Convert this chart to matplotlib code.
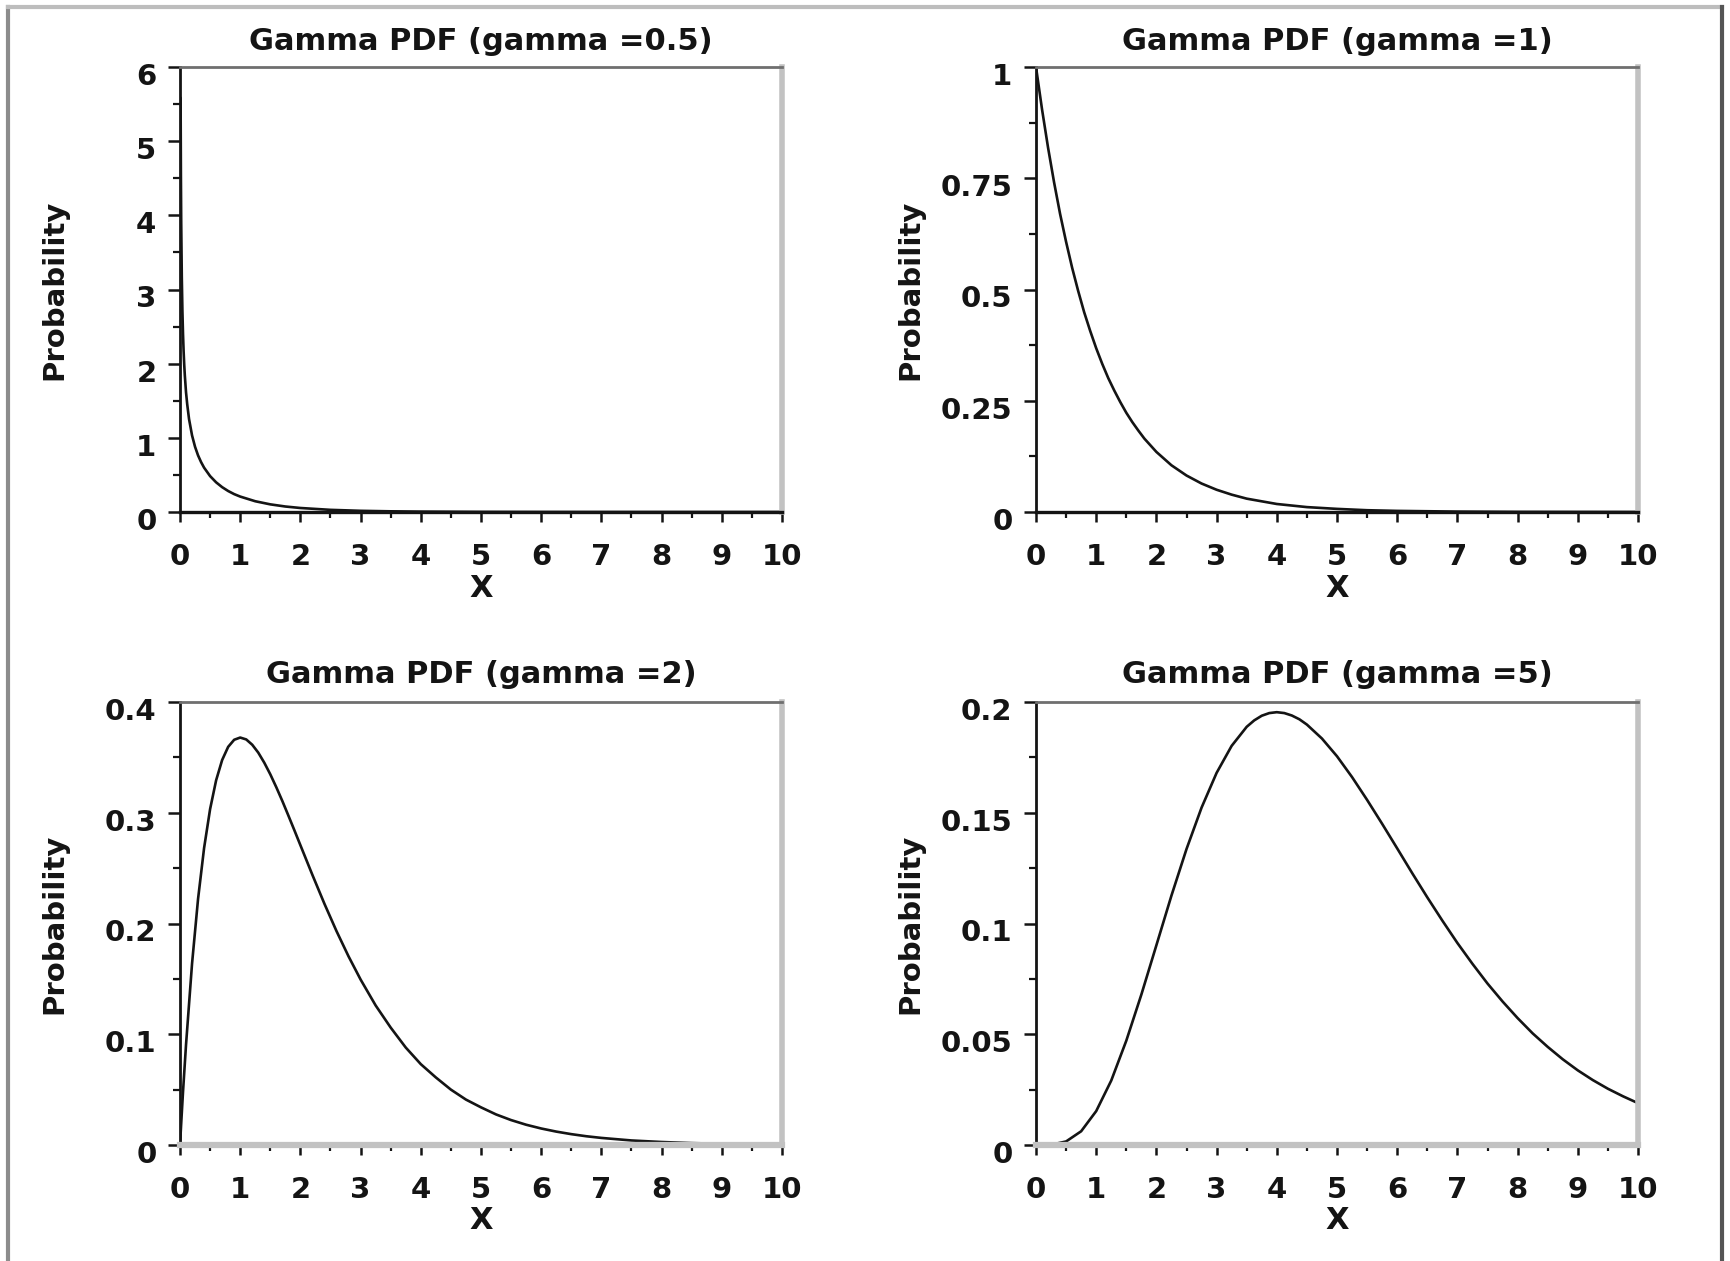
"""Four-panel gamma PDF figure (gamma = 0.5, 1, 2, 5)."""

import matplotlib
matplotlib.use("Agg")
import matplotlib.pyplot as plt
import matplotlib.transforms as mtransforms
from matplotlib.lines import Line2D
from matplotlib.ticker import FixedLocator, FuncFormatter

plt.rcParams.update({"font.family": "DejaVu Sans", "font.weight": "bold",
                     "axes.titleweight": "bold", "axes.labelweight": "bold"})

INK = "#141414"
SPINE_DARK = "#6f6f6f"
SPINE_LIGHT = "#c2c2c2"

# ---- data -----------------------------------------------------------------
GAMMAS = ["0.5", "1", "2", "5"]

X_05 = [0.01, 0.015, 0.02, 0.03, 0.04, 0.05, 0.06, 0.07, 0.08, 0.1, 0.12,
        0.15, 0.2, 0.25, 0.3, 0.35, 0.4, 0.5, 0.6, 0.7, 0.8, 0.9, 1.0, 1.25,
        1.5, 1.75, 2.0, 2.5, 3.0, 3.5, 4.0, 5.0, 6.0, 7.0, 8.0, 10.0]
PDF_05 = [5.585, 4.535, 3.910, 3.161, 2.711, 2.400, 2.168, 1.988, 1.843,
          1.614, 1.451, 1.254, 1.033, 0.879, 0.763, 0.673, 0.598, 0.484,
          0.400, 0.335, 0.283, 0.241, 0.208, 0.145, 0.103, 0.074, 0.054,
          0.029, 0.016, 0.0091, 0.0052, 0.0017, 0.0006, 0.0002, 0.0001,
          0.00001]

X_1 = [0, 0.1, 0.2, 0.3, 0.4, 0.5, 0.6, 0.7, 0.8, 0.9, 1.0, 1.1, 1.2, 1.3,
       1.4, 1.5, 1.6, 1.7, 1.8, 1.9, 2.0, 2.25, 2.5, 2.75, 3.0, 3.25, 3.5,
       3.75, 4.0, 4.5, 5.0, 5.5, 6.0, 7.0, 8.0, 10.0]
PDF_1 = [1.000, 0.905, 0.819, 0.741, 0.670, 0.607, 0.549, 0.497, 0.449,
         0.407, 0.368, 0.333, 0.301, 0.273, 0.247, 0.223, 0.202, 0.183,
         0.165, 0.150, 0.135, 0.105, 0.082, 0.064, 0.050, 0.039, 0.030,
         0.024, 0.018, 0.011, 0.007, 0.004, 0.0025, 0.0009, 0.0003, 0.00005]

X_2 = [0, 0.02, 0.05, 0.1, 0.2, 0.3, 0.4, 0.5, 0.6, 0.7, 0.8, 0.9, 1.0, 1.1,
       1.2, 1.3, 1.4, 1.5, 1.6, 1.7, 1.8, 1.9, 2.0, 2.2, 2.4, 2.6, 2.8, 3.0,
       3.25, 3.5, 3.75, 4.0, 4.25, 4.5, 4.75, 5.0, 5.25, 5.5, 5.75, 6.0,
       6.25, 6.5, 6.75, 7.0, 7.5, 8.0, 8.5, 9.0, 10.0]
PDF_2 = [0.0, 0.0196, 0.048, 0.0905, 0.1637, 0.2222, 0.2681, 0.3033, 0.3293,
         0.3476, 0.3595, 0.3659, 0.3679, 0.3662, 0.3614, 0.3543, 0.3452,
         0.3347, 0.3230, 0.3106, 0.2975, 0.2842, 0.2707, 0.2438, 0.2177,
         0.1931, 0.1703, 0.1494, 0.126, 0.106, 0.088, 0.073, 0.061, 0.050,
         0.041, 0.034, 0.0276, 0.0225, 0.0183, 0.0149, 0.0121, 0.0098,
         0.0079, 0.0064, 0.0041, 0.0027, 0.0017, 0.0011, 0.0005]

X_5 = [0, 0.25, 0.5, 0.75, 1.0, 1.25, 1.5, 1.75, 2.0, 2.25, 2.5, 2.75, 3.0,
       3.25, 3.5, 3.625, 3.75, 3.875, 4.0, 4.125, 4.25, 4.375, 4.5, 4.75,
       5.0, 5.25, 5.5, 5.75, 6.0, 6.25, 6.5, 6.75, 7.0, 7.25, 7.5, 7.75,
       8.0, 8.25, 8.5, 8.75, 9.0, 9.25, 9.5, 9.75, 10.0]
PDF_5 = [0.0, 0.0001, 0.0016, 0.0062, 0.0153, 0.0291, 0.0471, 0.0679,
         0.0902, 0.1126, 0.1336, 0.1523, 0.1680, 0.1802, 0.1888, 0.1917,
         0.1938, 0.1950, 0.1954, 0.1950, 0.1939, 0.1922, 0.1898, 0.1835,
         0.1755, 0.1661, 0.1558, 0.1450, 0.1339, 0.1227, 0.1118, 0.1013,
         0.0912, 0.0818, 0.0729, 0.0648, 0.0573, 0.0504, 0.0443, 0.0387,
         0.0337, 0.0293, 0.0254, 0.0220, 0.0189]

X_TICKS = [0, 1, 2, 3, 4, 5, 6, 7, 8, 9, 10]
Y_TICKS_05 = [0, 1, 2, 3, 4, 5, 6]
Y_TICKS_1 = [0, 0.25, 0.5, 0.75, 1]
Y_TICKS_2 = [0, 0.1, 0.2, 0.3, 0.4]
Y_TICKS_5 = [0, 0.05, 0.1, 0.15, 0.2]

panels = [
    (GAMMAS[0], X_05, PDF_05, Y_TICKS_05),
    (GAMMAS[1], X_1, PDF_1, Y_TICKS_1),
    (GAMMAS[2], X_2, PDF_2, Y_TICKS_2),
    (GAMMAS[3], X_5, PDF_5, Y_TICKS_5),
]

# ---- layout (pixel boxes measured on the 1731x1261 reference) --------------
W, H = 1731, 1261
fig = plt.figure(figsize=(W / 100, H / 100), dpi=100)
fig.patch.set_facecolor("white")

boxes = [(180, 67, 782, 512), (1036, 67, 1638, 512),
         (180, 702, 782, 1145), (1036, 702, 1638, 1145)]

fmt = FuncFormatter(lambda v, _: f"{v:g}")
shift = mtransforms.ScaledTranslation(0, -5 / 72, fig.dpi_scale_trans)

for i, ((g, xs, ys, yt), (l, t, r, b)) in enumerate(zip(panels, boxes)):
    ax = fig.add_axes([l / W, 1 - b / H, (r - l) / W, (b - t) / H])
    ax.plot(xs, ys, color=INK, lw=1.9, solid_joinstyle="round",
            solid_capstyle="round")
    ax.set_xlim(0, 10)
    ax.set_ylim(yt[0], yt[-1])

    step = yt[1] - yt[0]
    ax.xaxis.set_major_locator(FixedLocator(X_TICKS))
    ax.xaxis.set_minor_locator(FixedLocator([x + 0.5 for x in X_TICKS[:-1]]))
    ax.yaxis.set_major_locator(FixedLocator(yt))
    ax.yaxis.set_minor_locator(FixedLocator([y + step / 2 for y in yt[:-1]]))
    ax.xaxis.set_major_formatter(fmt)
    ax.yaxis.set_major_formatter(fmt)

    ax.tick_params(axis="both", which="both", direction="out", colors=INK,
                   labelsize=21, top=False, right=False)
    ax.tick_params(axis="y", which="major", length=9, width=1.8, pad=8)
    ax.tick_params(axis="y", which="minor", length=5, width=1.6)
    ax.tick_params(axis="x", which="major", length=7, width=1.8, pad=15)
    ax.tick_params(axis="x", which="minor", length=4, width=1.6)
    for lab in ax.get_yticklabels():
        lab.set_transform(lab.get_transform() + shift)

    ax.spines["left"].set(color=INK, linewidth=2.0)
    ax.spines["top"].set(color=SPINE_DARK, linewidth=2.0)
    ax.spines["right"].set(color=SPINE_LIGHT, linewidth=4.0)
    if i < 2:
        ax.spines["bottom"].set(color=INK, linewidth=2.4)
    else:
        ax.spines["bottom"].set(color=SPINE_LIGHT, linewidth=4.5)

    ax.set_title(f"Gamma PDF (gamma ={g})", fontsize=22, color=INK,
                 fontweight="bold", pad=12 if i < 2 else 14)
    ax.set_xlabel("X", fontsize=22, color=INK, fontweight="bold",
                  va="baseline")
    ax.xaxis.set_label_coords(0.5, -0.19)
    ax.set_ylabel("Probability", fontsize=21, color=INK, fontweight="bold",
                  va="center")
    ax.yaxis.set_label_coords(-0.208, 0.5)

# ---- outer frame: left / top / right only ---------------------------------
for (x0, y0, x1, y1, c, w) in [(8, 7, 8, H, "#8c8c8c", 3.0),
                               (8, 7, 1722, 7, "#bdbdbd", 3.0),
                               (1722, 7, 1722, H, "#555555", 3.0)]:
    fig.add_artist(Line2D([x0 / W, x1 / W], [1 - y0 / H, 1 - y1 / H],
                          transform=fig.transFigure, color=c, lw=w))

fig.savefig("out.png", dpi=100, facecolor="white")
